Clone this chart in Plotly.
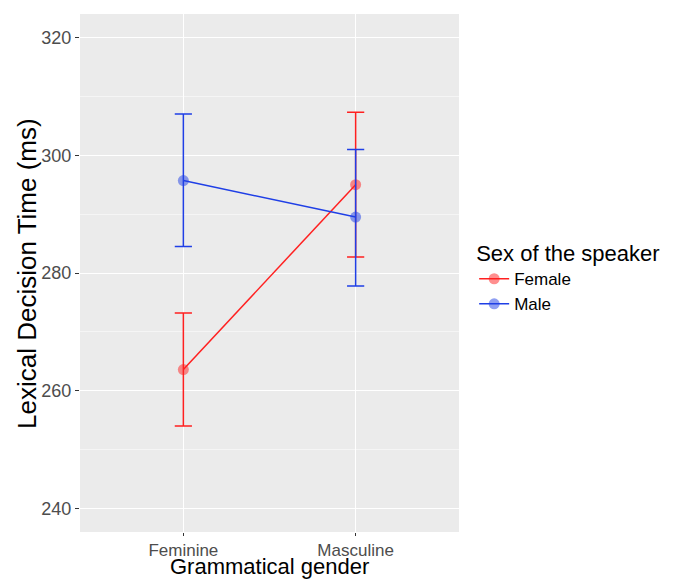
import plotly.graph_objects as go

categories = ["Feminine", "Masculine"]
series_names = ["Female", "Male"]
female_mean = [263.6, 295.0]
female_upper = [273.2, 307.3]
female_lower = [254.0, 282.7]
male_mean = [295.7, 289.5]
male_upper = [307.0, 301.0]
male_lower = [284.5, 277.8]
colors = ["#FF2020", "#1F3FE6"]
y_ticks = [240, 260, 280, 300, 320]

fig = go.Figure()
for name, mean, up, lo, col in [
    (series_names[0], female_mean, female_upper, female_lower, colors[0]),
    (series_names[1], male_mean, male_upper, male_lower, colors[1]),
]:
    fig.add_trace(go.Scatter(
        x=categories, y=mean, name=name, mode="lines+markers",
        line=dict(color=col, width=1.5),
        marker=dict(color=col, size=11, opacity=0.5),
        error_y=dict(type="data", symmetric=False,
                     array=[u - m for u, m in zip(up, mean)],
                     arrayminus=[m - l for m, l in zip(mean, lo)],
                     color=col, thickness=1.5, width=8.6),
    ))

font_family = "Liberation Sans, Arial, Helvetica, sans-serif"
fig.update_layout(
    width=678, height=579,
    margin=dict(l=80, r=219, t=14, b=47),
    paper_bgcolor="white", plot_bgcolor="#EBEBEB",
    font=dict(family=font_family, color="#000000"),
    showlegend=True,
    legend=dict(
        x=1.04, y=0.578, xanchor="left", yanchor="top",
        title=dict(text="Sex of the speaker", font=dict(size=22, color="#000000")),
        font=dict(size=17, color="#000000"),
        bgcolor="rgba(0,0,0,0)", tracegroupgap=0, itemwidth=30,
    ),
    xaxis=dict(
        type="category", range=[-0.6, 1.6], automargin=False,
        showgrid=True, gridcolor="white", gridwidth=1.2,
        ticks="outside", ticklen=3, tickcolor="#333333",
        tickfont=dict(size=17, color="#4D4D4D"),
        zeroline=False, showline=False,
    ),
    yaxis=dict(
        range=[236, 324], tickvals=y_ticks, automargin=False,
        showgrid=True, gridcolor="white", gridwidth=1.2,
        minor=dict(tickvals=[250, 270, 290, 310], showgrid=True, gridcolor="#F5F5F5", gridwidth=0.6),
        ticks="outside", ticklen=4, tickcolor="#333333",
        tickfont=dict(size=18, color="#4D4D4D"),
        zeroline=False, showline=False,
    ),
    annotations=[
        dict(text="Grammatical gender", xref="paper", yref="paper", x=0.5, y=-0.066,
             xanchor="center", yanchor="middle", showarrow=False,
             font=dict(size=22, color="#000000")),
        dict(text="Lexical Decision Time (ms)", xref="paper", yref="paper", x=-0.14, y=0.5,
             xanchor="center", yanchor="middle", textangle=-90, showarrow=False,
             font=dict(size=26, color="#000000")),
    ],
)

fig.write_html("out.html")
